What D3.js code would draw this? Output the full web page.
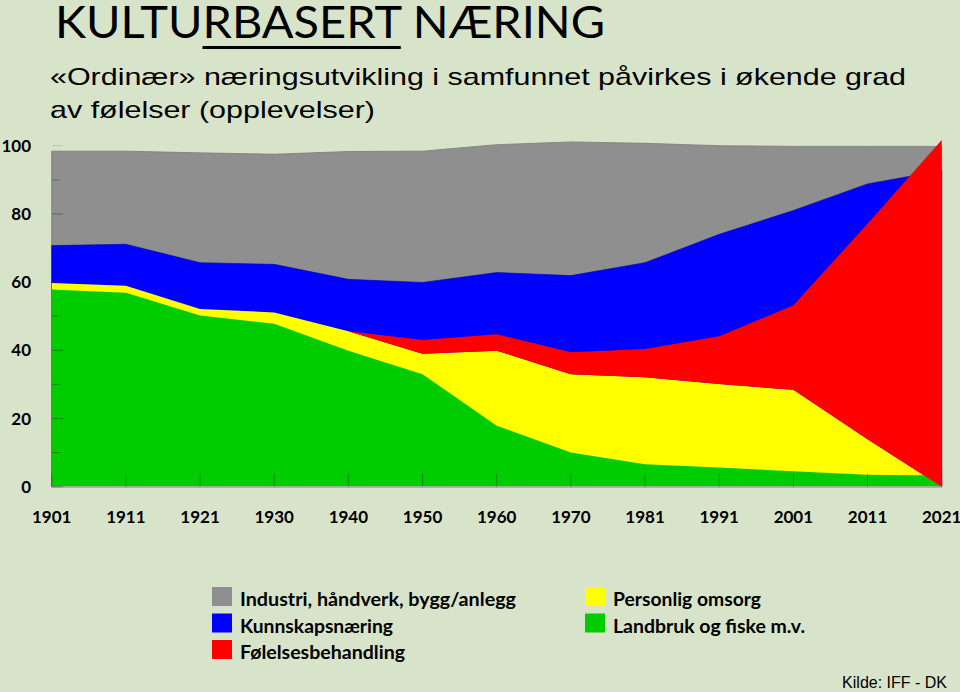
<!DOCTYPE html>
<html>
<head>
<meta charset="utf-8">
<script src="https://cdn.jsdelivr.net/npm/d3@7"></script>
<style>
  html, body { margin: 0; padding: 0; background: #d8e4c9; }
  svg { display: block; }
</style>
</head>
<body>
<svg id="chart" width="960" height="692"></svg>
<script>
// ---- DATA (levels, in %) ----
const years = ["1901","1911","1921","1930","1940","1950","1960","1970","1981","1991","2001","2011","2021"];
const industri   = [98.4, 98.4, 97.9, 97.5, 98.3, 98.4, 100.3, 101.1, 100.7, 100.0, 99.8, 99.8, 99.8];
const kunnskap   = [70.7, 71.1, 65.7, 65.2, 60.8, 59.9, 62.8, 61.9, 65.7, 74.0, 81.0, 88.8, 92.7];
const folelser   = [59.7, 58.9, 52.1, 51.1, 45.6, 43.0, 44.7, 39.4, 40.4, 44.1, 53.2, 77.1, 101.7];
const personlig  = [59.7, 58.9, 52.1, 51.1, 45.6, 39.0, 39.9, 33.0, 32.1, 30.1, 28.4, 13.9, 0.0];
const landbruk   = [57.8, 56.9, 50.2, 47.8, 39.9, 33.0, 17.9, 10.0, 6.6, 5.6, 4.5, 3.5, 3.3];
const yTicks = [0, 20, 40, 60, 80, 100];
const yMinorTicks = [10, 30, 50, 70, 90];

const legendNames = ["Industri, håndverk, bygg/anlegg", "Kunnskapsnæring", "Følelsesbehandling", "Personlig omsorg", "Landbruk og fiske m.v."];
const colors = { industri: "#8f8f8f", kunnskap: "#0000ff", folelser: "#ff0000", personlig: "#ffff00", landbruk: "#00cc00" };

const svg = d3.select("#chart");
const x = d3.scalePoint().domain(years).range([51.7, 941.7]);
const y = d3.scaleLinear().domain([0, 100]).range([486.7, 145.7]);

// ---- Title ----
const title = svg.append("text")
  .attr("x", 55).attr("y", 38)
  .attr("font-family", "Lato, 'Open Sans', sans-serif")
  .attr("font-weight", 400)
  .attr("font-size", 45)
  .attr("fill", "#000")
  .attr("textLength", 550).attr("lengthAdjust", "spacingAndGlyphs")
  .text("KULTURBASERT NÆRING");
try {
  const n = title.node();
  const x0 = n.getStartPositionOfChar(5).x;
  const x1 = n.getEndPositionOfChar(11).x;
  svg.append("rect").attr("x", x0).attr("y", 46).attr("width", x1 - x0).attr("height", 3).attr("fill", "#000");
} catch (e) {}

const subFont = "'Liberation Sans Narrow', 'Arial Narrow', 'Liberation Sans', sans-serif";
svg.append("text").attr("x", 50).attr("y", 85)
  .attr("font-family", subFont).attr("font-size", 24).attr("fill", "#000")
  .attr("textLength", 856).attr("lengthAdjust", "spacingAndGlyphs")
  .text("«Ordinær» næringsutvikling i samfunnet påvirkes i økende grad");
svg.append("text").attr("x", 50).attr("y", 118)
  .attr("font-family", subFont).attr("font-size", 24).attr("fill", "#000")
  .attr("textLength", 325).attr("lengthAdjust", "spacingAndGlyphs")
  .text("av følelser (opplevelser)");

// ---- Areas ----
const g = svg.append("g");
function area(vals) {
  return d3.area().x((d, i) => x(years[i])).y0(y(0)).y1(d => y(d))(vals);
}
g.append("path").attr("d", area(industri)).attr("fill", colors.industri)
  .attr("stroke", "#7a7a7a").attr("stroke-width", 0.8);
g.append("path").attr("d", area(kunnskap)).attr("fill", colors.kunnskap)
  .attr("stroke", "#0000b0").attr("stroke-width", 0.6);
g.append("path").attr("d", area(personlig)).attr("fill", colors.personlig);
g.append("path").attr("d", area(landbruk)).attr("fill", colors.landbruk);
// Følelsesbehandling band: from Personlig omsorg level up to its own level, drawn on top
const band = d3.area()
  .x((d, i) => x(years[i]))
  .y0((d, i) => y(personlig[i]))
  .y1(d => y(d));
g.append("path").attr("d", band(folelser)).attr("fill", colors.folelser);

// ---- Axes ----
const axisCol = "rgba(40,60,30,0.45)";
svg.append("line").attr("x1", x(years[0])).attr("x2", x(years[years.length - 1]))
  .attr("y1", y(0)).attr("y2", y(0)).attr("stroke", "#9fb08f").attr("stroke-width", 1.5);
svg.append("g").selectAll("line").data(years).join("line")
  .attr("x1", d => x(d)).attr("x2", d => x(d))
  .attr("y1", y(0)).attr("y2", y(0) - 13)
  .attr("stroke", axisCol).attr("stroke-width", 1);
svg.append("g").selectAll("line").data(yTicks).join("line")
  .attr("x1", 52).attr("x2", 63).attr("y1", d => y(d)).attr("y2", d => y(d))
  .attr("stroke", d => d === 100 ? "#b8c4a8" : axisCol).attr("stroke-width", 1);
svg.append("g").selectAll("line").data(yMinorTicks).join("line")
  .attr("x1", 52).attr("x2", 60).attr("y1", d => y(d)).attr("y2", d => y(d))
  .attr("stroke", axisCol).attr("stroke-width", 1);

const labFont = "Lato, 'Open Sans', sans-serif";
svg.append("g").selectAll("text").data(yTicks).join("text")
  .attr("x", 31).attr("y", d => y(d)).attr("dy", "0.36em")
  .attr("text-anchor", "end")
  .attr("font-family", labFont).attr("font-weight", 700).attr("font-size", 17)
  .attr("fill", "#000").text(d => d);
svg.append("g").selectAll("text").data(years).join("text")
  .attr("x", d => x(d)).attr("y", 523)
  .attr("text-anchor", "middle")
  .attr("font-family", labFont).attr("font-weight", 700).attr("font-size", 17)
  .attr("fill", "#000").text(d => d);

// ---- Legend ----
const legendItems = [
  { name: legendNames[0], color: colors.industri, col: 0, row: 0, w: 276 },
  { name: legendNames[1], color: colors.kunnskap, col: 0, row: 1, w: 153 },
  { name: legendNames[2], color: colors.folelser, col: 0, row: 2, w: 165 },
  { name: legendNames[3], color: colors.personlig, col: 1, row: 0, w: 148 },
  { name: legendNames[4], color: colors.landbruk, col: 1, row: 1, w: 192 }
];
const lg = svg.append("g");
const colX = [212, 585];
const rowY = [587, 613.5, 640];
lg.selectAll("rect").data(legendItems).join("rect")
  .attr("x", d => colX[d.col]).attr("y", d => rowY[d.row])
  .attr("width", 20).attr("height", 19).attr("fill", d => d.color);
lg.selectAll("text").data(legendItems).join("text")
  .attr("x", d => colX[d.col] + 28).attr("y", d => rowY[d.row] + 19)
  .attr("font-family", labFont).attr("font-weight", 700).attr("font-size", 18)
  .attr("fill", "#000")
  .attr("textLength", d => d.w).attr("lengthAdjust", "spacingAndGlyphs")
  .text(d => d.name);

svg.append("text").attr("x", 947).attr("y", 688).attr("text-anchor", "end")
  .attr("font-family", "'Liberation Sans', Arial, sans-serif").attr("font-size", 16)
  .attr("fill", "#000").text("Kilde: IFF - DK");
</script>
</body>
</html>
